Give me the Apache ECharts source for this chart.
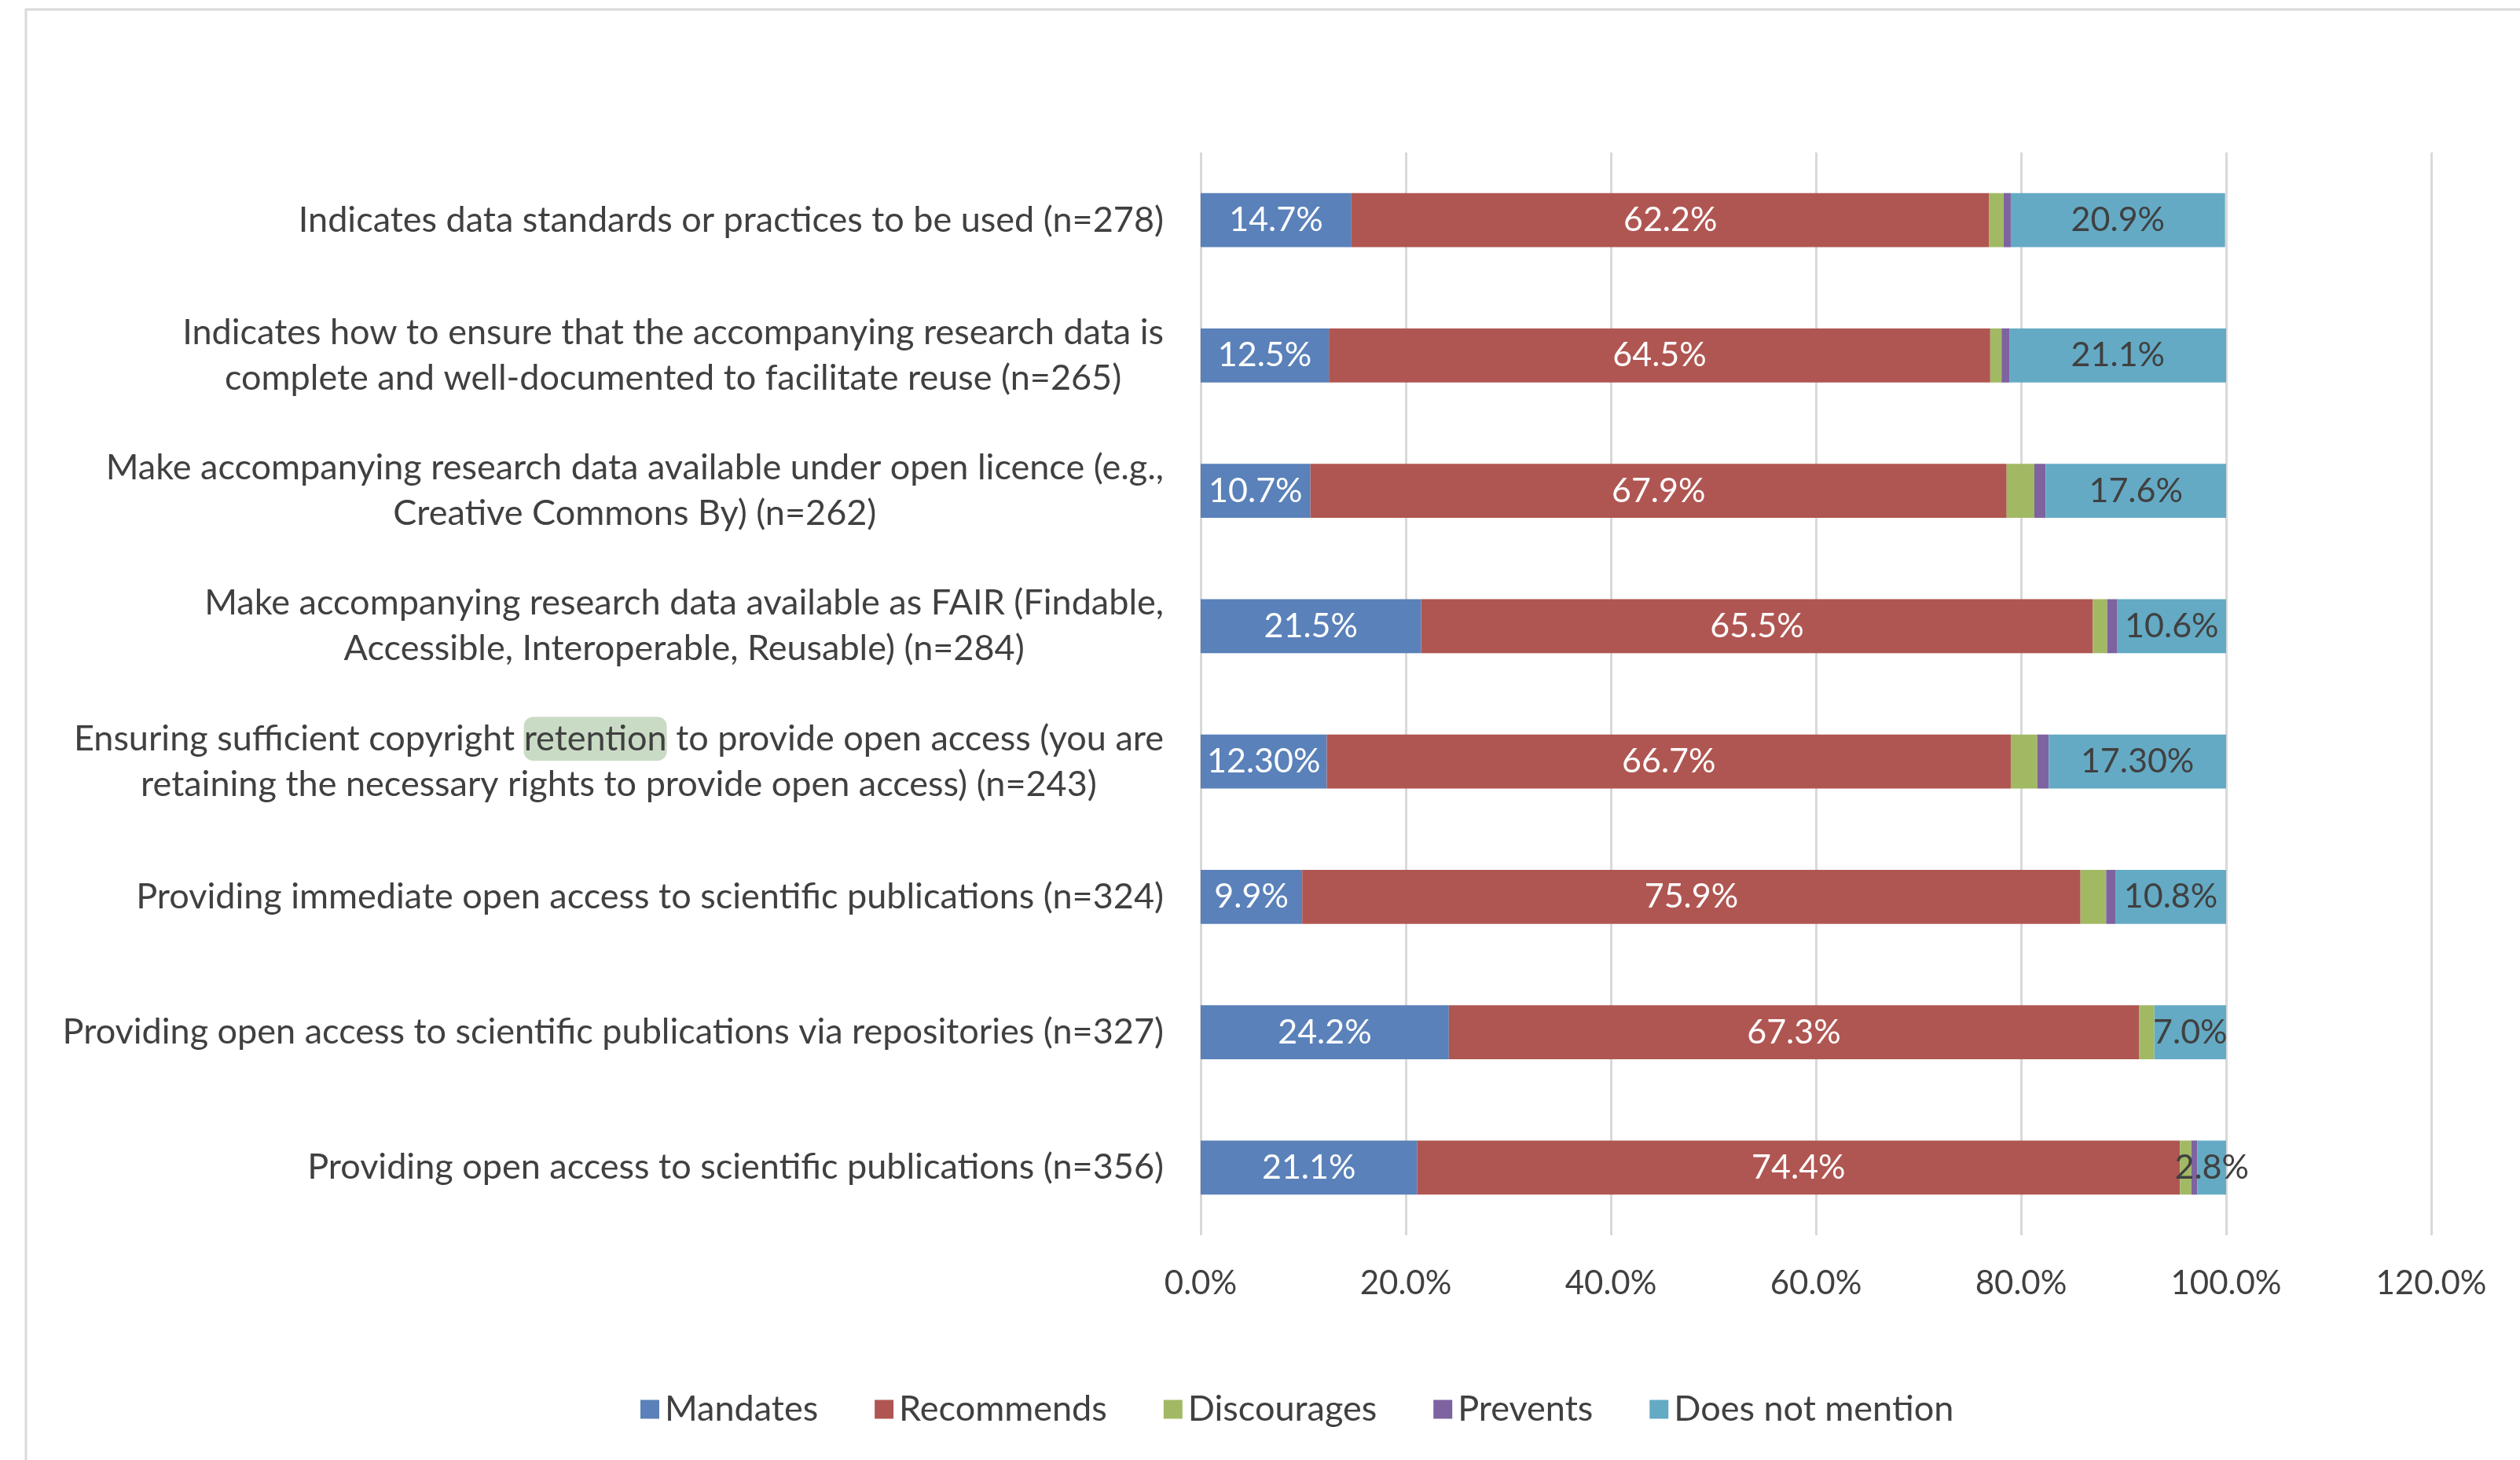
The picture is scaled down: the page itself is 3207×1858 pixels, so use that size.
<!DOCTYPE html>
<html>
<head>
<meta charset="utf-8">
<script src="https://cdn.jsdelivr.net/npm/echarts@6/dist/echarts.min.js"></script>
<style>
  html, body { margin: 0; padding: 0; background: #ffffff; }
  #chart { width: 3207px; height: 1858px; }
</style>
</head>
<body>
<div id="chart"></div>
<script>
// ---- data ----
var categories = [
  'Indicates data standards or practices to be used (n=278)',
  'Indicates how to ensure that the accompanying research data is\ncomplete and well-documented to facilitate reuse (n=265)',
  'Make accompanying research data available under open licence (e.g.,\nCreative Commons By) (n=262)',
  'Make accompanying research data available as FAIR (Findable,\nAccessible, Interoperable, Reusable) (n=284)',
  'Ensuring sufficient copyright retention to provide open access (you are\nretaining the necessary rights to provide open access) (n=243)',
  'Providing immediate open access to scientific publications (n=324)',
  'Providing open access to scientific publications via repositories (n=327)',
  'Providing open access to scientific publications (n=356)'
];
var mandates       = [14.7, 12.5, 10.7, 21.5, 12.3, 9.9, 24.2, 21.1];
var recommends     = [62.2, 64.5, 67.9, 65.5, 66.7, 75.9, 67.3, 74.4];
var discourages    = [1.4, 1.1, 2.7, 1.4, 2.6, 2.5, 1.5, 1.1];
var prevents       = [0.7, 0.8, 1.1, 1.0, 1.1, 0.9, 0.0, 0.6];
var doesNotMention = [20.9, 21.1, 17.6, 10.6, 17.3, 10.8, 7.0, 2.8];
// decimals shown in the data labels (as printed in the source)
var mandatesDecimals = [1, 1, 1, 1, 2, 1, 1, 1];
var recommendsDecimals = [1, 1, 1, 1, 1, 1, 1, 1];
var notMentionDecimals = [1, 1, 1, 1, 2, 1, 1, 1];
var seriesNames = ['Mandates', 'Recommends', 'Discourages', 'Prevents', 'Does not mention'];
var xTicks = { min: 0, max: 120, interval: 20 };

// ---- styles ----
var FONT = 'Lato';
var TXT = '#404040';
var CAT_FS = 45;
var colors = ['#5A81B9', '#B05652', '#A2B964', '#7E63A0', '#64AAC4'];

function pctLabel(decimals, color) {
  return {
    show: true,
    position: 'inside',
    color: color,
    fontFamily: FONT,
    fontSize: 43,
    formatter: function (p) { return p.value.toFixed(decimals[p.dataIndex]) + '%'; }
  };
}

var chart = echarts.init(document.getElementById('chart'), null, { renderer: 'canvas' });

var option = {
  backgroundColor: '#ffffff',
  animation: false,
  color: colors,
  graphic: [{
    type: 'rect',
    silent: true,
    shape: { x: 33, y: 12, width: 3400, height: 2000 },
    style: { fill: 'none', stroke: '#d9d9d9', lineWidth: 3 }
  }],
  grid: { left: 1528, right: 113, top: 194, bottom: 286, containLabel: false },
  legend: {
    data: seriesNames,
    left: 810,
    top: 1766,
    itemWidth: 24,
    itemHeight: 24,
    itemGap: 72,
    icon: 'rect',
    textStyle: { fontFamily: FONT, fontSize: 45, color: TXT, padding: [0, 0, 0, 2] }
  },
  xAxis: {
    type: 'value',
    min: xTicks.min,
    max: xTicks.max,
    interval: xTicks.interval,
    axisLine: { show: false },
    axisTick: { show: false },
    splitLine: { show: true, lineStyle: { color: '#d9d9d9', width: 3 } },
    axisLabel: {
      margin: 40,
      fontFamily: FONT,
      fontSize: 42,
      color: TXT,
      formatter: function (v) { return v.toFixed(1) + '%'; }
    }
  },
  yAxis: {
    type: 'category',
    inverse: true,
    data: categories,
    axisLine: { show: false },
    axisTick: { show: false },
    axisLabel: {
      margin: 47,
      fontFamily: FONT,
      fontSize: CAT_FS,
      color: TXT,
      lineHeight: 58,
      formatter: function (v) {
        return v.split('\n').map(function (line) {
          return '{c|' + line.replace('retention', '}{hl|retention}{c|') + '}';
        }).join('\n');
      },
      rich: {
        c: { fontFamily: FONT, fontSize: CAT_FS, color: TXT, lineHeight: 58, align: 'center' },
        hl: { fontFamily: FONT, fontSize: CAT_FS, color: TXT, lineHeight: 58, align: 'center',
              backgroundColor: '#cadbc5', borderRadius: 12, height: 56 }
      }
    }
  },
  series: [
    { name: seriesNames[0], type: 'bar', stack: 'total', barCategoryGap: '60%', data: mandates,
      label: pctLabel(mandatesDecimals, '#ffffff') },
    { name: seriesNames[1], type: 'bar', stack: 'total', data: recommends,
      label: pctLabel(recommendsDecimals, '#ffffff') },
    { name: seriesNames[2], type: 'bar', stack: 'total', data: discourages },
    { name: seriesNames[3], type: 'bar', stack: 'total', data: prevents },
    { name: seriesNames[4], type: 'bar', stack: 'total', data: doesNotMention,
      label: pctLabel(notMentionDecimals, TXT) }
  ]
};

chart.setOption(option);
</script>
</body>
</html>
